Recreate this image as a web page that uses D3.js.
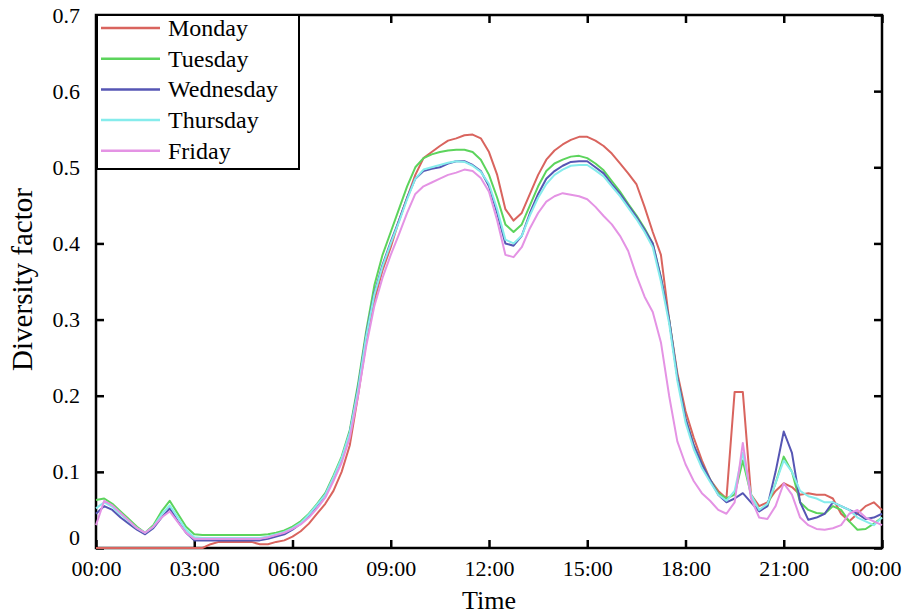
<!DOCTYPE html>
<html>
<head>
<meta charset="utf-8">
<script src="https://cdn.jsdelivr.net/npm/d3@7"></script>
<style>
    body { margin: 0; background: #ffffff; }
    svg text { font-family: "Liberation Serif", "Times New Roman", serif; fill: #000; }
</style>
</head>
<body>
<div id="chart"></div>
<script>

//----- Daten -------------------------------------------------------------------------//

// Zeitachse in 15-Minuten-Schritten (Stunden)
var hours = d3.range(0, 97).map(function (i) { return i / 4; });

var xTickValues = [0, 3, 6, 9, 12, 15, 18, 21, 24];
var xTickLabels = ['00:00', '03:00', '06:00', '09:00', '12:00', '15:00', '18:00', '21:00', '00:00'];
var yTickValues = [0, 0.1, 0.2, 0.3, 0.4, 0.5, 0.6, 0.7];
var yTickLabels = ['0', '0.1', '0.2', '0.3', '0.4', '0.5', '0.6', '0.7'];

var dayNames = ['Monday', 'Tuesday', 'Wednesday', 'Thursday', 'Friday'];
var dayColors = ['#d9645e', '#5cd45c', '#5656b4', '#86ecec', '#e493e4'];

var monday = [
    0, 0, 0, 0,
    0, 0, 0, 0,
    0, 0, 0, 0,
    0, 0, 0.005, 0.008,
    0.008, 0.008, 0.008, 0.008,
    0.005, 0.005, 0.008, 0.01,
    0.015, 0.022, 0.032, 0.045,
    0.058, 0.075, 0.1, 0.135,
    0.2, 0.27, 0.325, 0.365,
    0.395, 0.43, 0.46, 0.49,
    0.512, 0.52, 0.528, 0.535,
    0.538, 0.542, 0.543, 0.538,
    0.52, 0.49, 0.445, 0.43,
    0.44, 0.465, 0.49, 0.51,
    0.522, 0.53, 0.536, 0.54,
    0.54, 0.535, 0.528, 0.518,
    0.505, 0.492, 0.478, 0.448,
    0.415, 0.385, 0.30, 0.23,
    0.18, 0.145, 0.115, 0.09,
    0.075, 0.065, 0.205, 0.205,
    0.07, 0.055, 0.06, 0.075,
    0.085, 0.08, 0.07, 0.072,
    0.07, 0.07, 0.065, 0.045,
    0.035, 0.045, 0.055, 0.06,
    0.05
];

var tuesday = [
    0.063, 0.065, 0.058, 0.048,
    0.038, 0.028, 0.02, 0.03,
    0.048, 0.062, 0.045, 0.028,
    0.018, 0.017, 0.017, 0.017,
    0.017, 0.017, 0.017, 0.017,
    0.017, 0.018, 0.02, 0.023,
    0.028, 0.035, 0.045, 0.058,
    0.072, 0.095, 0.12, 0.155,
    0.215, 0.285, 0.345, 0.385,
    0.415, 0.445, 0.475, 0.5,
    0.512, 0.517, 0.52, 0.522,
    0.523, 0.523, 0.52, 0.51,
    0.49, 0.46, 0.425, 0.415,
    0.425, 0.45, 0.475, 0.495,
    0.505, 0.51, 0.514, 0.515,
    0.512, 0.505, 0.496, 0.482,
    0.468, 0.452, 0.437, 0.42,
    0.4, 0.355, 0.3, 0.225,
    0.17, 0.135, 0.11, 0.09,
    0.072, 0.065, 0.07, 0.115,
    0.07, 0.05, 0.055, 0.085,
    0.12, 0.1, 0.06, 0.05,
    0.046, 0.045, 0.055, 0.05,
    0.035, 0.024, 0.025, 0.032,
    0.04
];

var wednesday = [
    0.045, 0.055, 0.05, 0.04,
    0.032, 0.024, 0.018, 0.026,
    0.04, 0.052, 0.035, 0.02,
    0.01, 0.01, 0.01, 0.01,
    0.01, 0.01, 0.01, 0.01,
    0.01, 0.012, 0.015, 0.018,
    0.024, 0.032, 0.043, 0.056,
    0.07, 0.092, 0.117, 0.152,
    0.21, 0.28, 0.335, 0.372,
    0.402, 0.43, 0.46, 0.485,
    0.495, 0.498, 0.5, 0.505,
    0.508, 0.508, 0.503, 0.495,
    0.475, 0.44, 0.4, 0.397,
    0.41, 0.44, 0.465, 0.485,
    0.495, 0.502, 0.507, 0.508,
    0.508, 0.5, 0.492, 0.478,
    0.465, 0.45, 0.435, 0.418,
    0.4, 0.355, 0.3, 0.225,
    0.17, 0.135, 0.11, 0.09,
    0.07, 0.06, 0.065, 0.072,
    0.06, 0.048, 0.055, 0.1,
    0.153, 0.125, 0.06, 0.037,
    0.04, 0.045, 0.06, 0.055,
    0.05, 0.045, 0.038, 0.04,
    0.045
];

var thursday = [
    0.052, 0.06, 0.054, 0.044,
    0.035, 0.026, 0.02, 0.028,
    0.044, 0.056, 0.04, 0.024,
    0.014, 0.013, 0.013, 0.013,
    0.013, 0.013, 0.013, 0.013,
    0.013, 0.015, 0.018, 0.021,
    0.026, 0.033, 0.044, 0.057,
    0.07, 0.093, 0.118, 0.152,
    0.208, 0.278, 0.333, 0.37,
    0.4, 0.428, 0.458, 0.485,
    0.497, 0.5, 0.503, 0.506,
    0.508, 0.507, 0.502, 0.494,
    0.478, 0.445, 0.405, 0.4,
    0.41, 0.437, 0.46, 0.478,
    0.49, 0.497, 0.502, 0.503,
    0.503, 0.496, 0.488, 0.475,
    0.462, 0.447, 0.432, 0.415,
    0.395, 0.35, 0.295, 0.22,
    0.165, 0.13, 0.105, 0.087,
    0.07, 0.062, 0.075, 0.125,
    0.07, 0.05, 0.058, 0.085,
    0.115, 0.1, 0.075, 0.068,
    0.065, 0.06, 0.06, 0.055,
    0.05, 0.04, 0.035, 0.03,
    0.04
];

var friday = [
    0.03, 0.062, 0.056, 0.046,
    0.036, 0.026, 0.02, 0.028,
    0.04, 0.048, 0.034, 0.02,
    0.012, 0.012, 0.012, 0.012,
    0.012, 0.012, 0.012, 0.012,
    0.012, 0.014, 0.017, 0.02,
    0.025, 0.031, 0.04, 0.052,
    0.066, 0.088, 0.112, 0.145,
    0.2, 0.265, 0.318, 0.355,
    0.385, 0.412, 0.44, 0.465,
    0.475, 0.48, 0.485, 0.49,
    0.493, 0.497, 0.495, 0.486,
    0.468, 0.43, 0.385, 0.382,
    0.395, 0.42, 0.44, 0.455,
    0.462, 0.466, 0.464, 0.462,
    0.458, 0.448, 0.436, 0.425,
    0.41, 0.39, 0.358, 0.33,
    0.31, 0.27, 0.2, 0.14,
    0.11, 0.088, 0.072, 0.062,
    0.05, 0.045, 0.06, 0.138,
    0.065, 0.04, 0.038, 0.055,
    0.085, 0.07, 0.04, 0.03,
    0.025, 0.024, 0.026, 0.03,
    0.045, 0.05, 0.04, 0.035,
    0.03
];

var dayValues = [monday, tuesday, wednesday, thursday, friday];


//----- Diagramm zeichnen -------------------------------------------------------------------------//

function drawChart() {

    var width = 904;
    var height = 614;
    var left = 96, right = 882, top = 15, bottom = 548;

    var svg = d3.select('#chart').append('svg')
        .attr('width', width)
        .attr('height', height);

    var x = d3.scaleLinear().domain([0, 24]).range([left, right]);
    var y = d3.scaleLinear().domain([0, 0.7]).range([bottom, top]);

    // Rahmen
    svg.append('rect')
        .attr('x', left)
        .attr('y', top)
        .attr('width', right - left)
        .attr('height', bottom - top)
        .attr('fill', 'none')
        .attr('stroke', '#000')
        .attr('stroke-width', 2.5);

    // Achsen mit Ticks nach innen
    var xAxis = svg.append('g')
        .attr('transform', 'translate(0,' + bottom + ')')
        .call(d3.axisBottom(x).tickValues(xTickValues).tickSize(-8)
            .tickFormat(function (d, i) { return xTickLabels[i]; }));
    xAxis.selectAll('text').attr('dy', 0).attr('y', 28).style('font-size', '22px');
    xAxis.selectAll('.tick').filter(function (d) { return d === 24; })
        .select('text').attr('text-anchor', 'end').attr('x', 19);

    svg.append('g')
        .attr('transform', 'translate(0,' + top + ')')
        .call(d3.axisTop(x).tickValues(xTickValues).tickSize(-8).tickFormat(''));

    var yAxis = svg.append('g')
        .attr('transform', 'translate(' + left + ',0)')
        .call(d3.axisLeft(y).tickValues(yTickValues).tickSize(-8)
            .tickFormat(function (d, i) { return yTickLabels[i]; }));
    yAxis.selectAll('text').attr('x', -16).style('font-size', '22px');
    yAxis.selectAll('.tick').filter(function (d) { return d === 0; })
        .select('text').attr('dy', '-0.15em');

    svg.append('g')
        .attr('transform', 'translate(' + right + ',0)')
        .call(d3.axisRight(y).tickValues(yTickValues).tickSize(-8).tickFormat(''));

    svg.selectAll('.domain').remove();
    svg.selectAll('.tick line').attr('stroke', '#000').attr('stroke-width', 2.5);

    // Linien
    var line = d3.line()
        .x(function (d, i) { return x(hours[i]); })
        .y(function (d) { return y(d); });

    for (var k = 0; k < dayValues.length; k++) {
        svg.append('path')
            .datum(dayValues[k])
            .attr('fill', 'none')
            .attr('stroke', dayColors[k])
            .attr('stroke-width', 2)
            .attr('stroke-linejoin', 'round')
            .attr('d', line);
    }

    // Legende
    var legend = svg.append('g');
    legend.append('rect')
        .attr('x', 97)
        .attr('y', 15)
        .attr('width', 202)
        .attr('height', 154)
        .attr('fill', '#fff')
        .attr('stroke', '#000')
        .attr('stroke-width', 2);

    for (var j = 0; j < dayNames.length; j++) {
        var ly = 28 + j * 30.7;
        legend.append('line')
            .attr('x1', 101).attr('x2', 160)
            .attr('y1', ly).attr('y2', ly)
            .attr('stroke', dayColors[j])
            .attr('stroke-width', 2.5);
        legend.append('text')
            .attr('x', 168)
            .attr('y', ly + 8)
            .style('font-size', '24px')
            .text(dayNames[j]);
    }

    // Achsentitel
    svg.append('text')
        .attr('x', (left + right) / 2)
        .attr('y', 609)
        .attr('text-anchor', 'middle')
        .style('font-size', '26px')
        .text('Time');

    svg.append('text')
        .attr('transform', 'translate(32,' + ((top + bottom) / 2 - 2) + ') rotate(-90)')
        .attr('text-anchor', 'middle')
        .style('font-size', '29px')
        .text('Diversity factor');
}

drawChart();

</script>
</body>
</html>
